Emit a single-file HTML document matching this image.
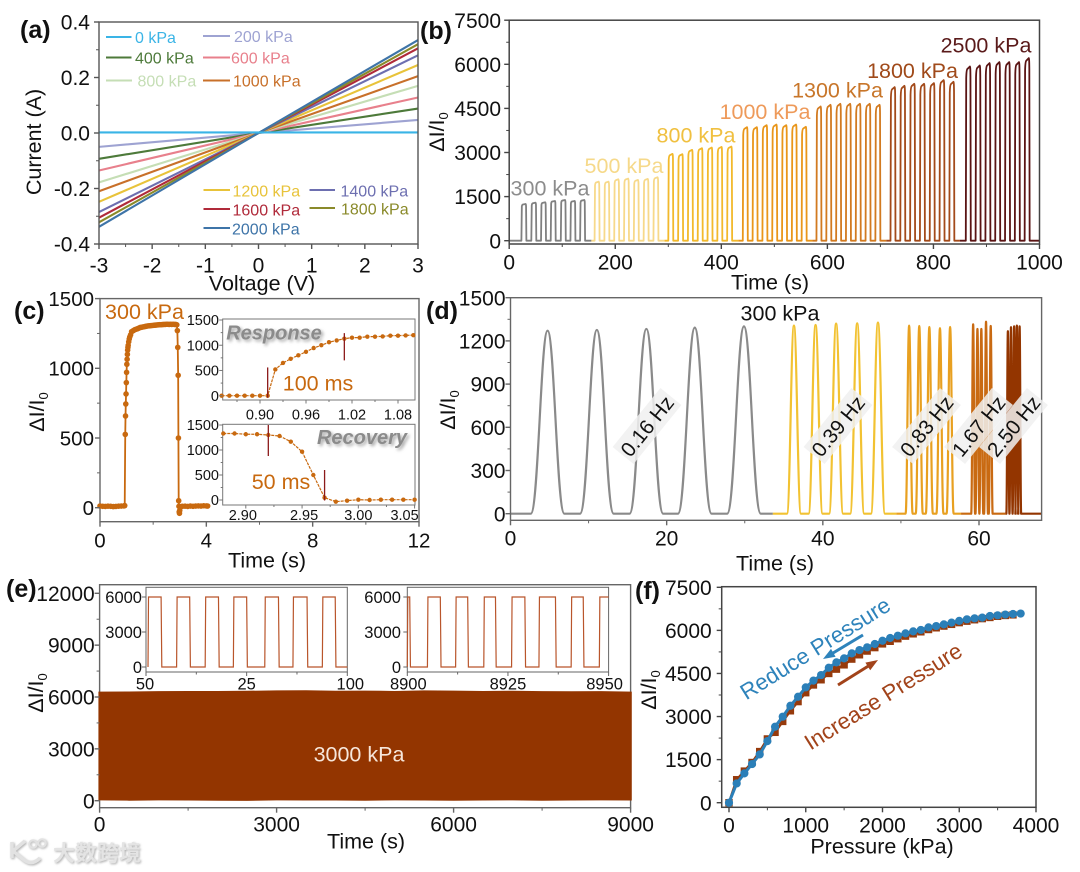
<!DOCTYPE html>
<html lang="en">
<head>
<meta charset="utf-8">
<title>Pressure sensor performance figure</title>
<style>
html,body{margin:0;padding:0;background:#fff}
svg{display:block}
text{font-family:"Liberation Sans","Noto Sans CJK SC",sans-serif;fill:#111}
.mid{text-anchor:middle}
.pl{font-weight:bold;font-size:25px}
.at{font-size:21.5px;text-anchor:middle}
.lg{font-size:16px}
.ann{font-size:21.5px;text-anchor:middle}
.rot{font-size:20.6px;text-anchor:middle}
.arc{font-size:22.3px;text-anchor:middle}
.sh{font-weight:bold;font-style:italic;font-size:20px;text-anchor:middle;fill:#8b8b8b;filter:drop-shadow(2px 2px 1.5px rgba(90,90,90,.55))}
</style>
</head>
<body>
<svg id="fig" width="1080" height="872" viewBox="0 0 1080 872">
<rect width="1080" height="872" fill="#fff"/>

<g id="pa"></g>
<g>
  <line x1="106" x2="131.5" y1="37" y2="37" stroke="#3ab4e6" stroke-width="2"/>
  <text class="lg" x="135" y="37" dy=".36em" style="fill:#3ab4e6">0 kPa</text>
  <line x1="203" x2="230" y1="36" y2="36" stroke="#9ea3d2" stroke-width="2"/>
  <text class="lg" x="234" y="36" dy=".36em" style="fill:#9ea3d2">200 kPa</text>
  <line x1="106" x2="131.5" y1="57.5" y2="57.5" stroke="#4d7a3a" stroke-width="2"/>
  <text class="lg" x="135" y="57.5" dy=".36em" style="fill:#4d7a3a">400 kPa</text>
  <line x1="203" x2="230" y1="57.5" y2="57.5" stroke="#e8808c" stroke-width="2"/>
  <text class="lg" x="231" y="57.5" dy=".36em" style="fill:#e8808c">600 kPa</text>
  <line x1="106" x2="132" y1="80.5" y2="80.5" stroke="#c5deb5" stroke-width="2"/>
  <text class="lg" x="137.5" y="80.5" dy=".36em" style="fill:#c5deb5">800 kPa</text>
  <line x1="203" x2="230" y1="80.5" y2="80.5" stroke="#c8702a" stroke-width="2"/>
  <text class="lg" x="233" y="80.5" dy=".36em" style="fill:#c8702a">1000 kPa</text>
  <line x1="203.5" x2="230" y1="190" y2="190" stroke="#e8c33a" stroke-width="2"/>
  <text class="lg" x="232.5" y="190.5" dy=".36em" style="fill:#e8c33a">1200 kPa</text>
  <line x1="309.5" x2="335" y1="190" y2="190" stroke="#6d6fb0" stroke-width="2"/>
  <text class="lg" x="340.5" y="190.5" dy=".36em" style="fill:#6d6fb0">1400 kPa</text>
  <line x1="203.5" x2="230" y1="209" y2="209" stroke="#b02a3a" stroke-width="2"/>
  <text class="lg" x="232.5" y="209.5" dy=".36em" style="fill:#b02a3a">1600 kPa</text>
  <line x1="309.5" x2="335" y1="208" y2="208" stroke="#8a8a2a" stroke-width="2"/>
  <text class="lg" x="341" y="208.5" dy=".36em" style="fill:#8a8a2a">1800 kPa</text>
  <line x1="203.5" x2="230" y1="228" y2="228" stroke="#3e74a8" stroke-width="2"/>
  <text class="lg" x="232" y="228.5" dy=".36em" style="fill:#3e74a8">2000 kPa</text>
</g>
<text class="pl" x="20" y="29" dy=".36em">(a)</text>
<text class="at" x="262" y="283" dy=".36em">Voltage (V)</text>
<text class="at" transform="translate(33,142) rotate(-90)" dy=".36em">Current (A)</text>

<g id="pb"></g>
<text class="pl" x="420" y="30" dy=".36em">(b)</text>
<text class="at" x="770" y="282" dy=".36em">Time (s)</text>
<text class="at" transform="translate(436,132) rotate(-90)" dy=".36em">ΔI/I<tspan font-size="13" dy="4">0</tspan></text>
<g>
  <text class="ann" x="550" y="188" dy=".36em" style="fill:#8c8c8c">300 kPa</text>
  <text class="ann" x="624" y="165.5" dy=".36em" style="fill:#f6d98a">500 kPa</text>
  <text class="ann" x="696" y="135" dy=".36em" style="fill:#f0c040">800 kPa</text>
  <text class="ann" x="765" y="111.5" dy=".36em" style="fill:#ee9a5a">1000 kPa</text>
  <text class="ann" x="837.5" y="90" dy=".36em" style="fill:#c8762a">1300 kPa</text>
  <text class="ann" x="912.5" y="70.5" dy=".36em" style="fill:#a04a1a">1800 kPa</text>
  <text class="ann" x="986" y="45" dy=".36em" style="fill:#5a1a1a">2500 kPa</text>
</g>

<g id="pc"></g>
<text class="pl" x="14" y="310" dy=".36em">(c)</text>
<text class="at" x="267" y="560" dy=".36em">Time (s)</text>
<text class="at" transform="translate(36,412) rotate(-90)" dy=".36em">ΔI/I<tspan font-size="13" dy="4">0</tspan></text>
<text class="ann" x="144.5" y="311.5" dy=".36em" style="fill:#c8690f">300 kPa</text>
<text class="sh" x="274" y="332.5" dy=".36em">Response</text>
<text class="ann" x="318" y="383" dy=".36em" style="fill:#c8690f">100 ms</text>
<text class="sh" x="362" y="437" dy=".36em">Recovery</text>
<text class="ann" x="281" y="481.5" dy=".36em" style="fill:#c8690f">50 ms</text>

<g id="pd"></g>
<text class="pl" x="426" y="310" dy=".36em">(d)</text>
<text class="at" x="775" y="563" dy=".36em">Time (s)</text>
<text class="at" transform="translate(447,410) rotate(-90)" dy=".36em">ΔI/I<tspan font-size="13" dy="4">0</tspan></text>
<text class="ann" x="780" y="313" dy=".36em">300 kPa</text>
<g transform="translate(647,426) rotate(-51)"><rect x="-38" y="-13.5" width="76" height="27" fill="#f0f0f0" fill-opacity=".85"/><text class="rot" dy=".36em">0.16 Hz</text></g>
<g transform="translate(838,426) rotate(-51)"><rect x="-38" y="-13.5" width="76" height="27" fill="#f0f0f0" fill-opacity=".85"/><text class="rot" dy=".36em">0.39 Hz</text></g>
<g transform="translate(926.5,426) rotate(-51)"><rect x="-38" y="-13.5" width="76" height="27" fill="#f0f0f0" fill-opacity=".85"/><text class="rot" dy=".36em">0.83 Hz</text></g>
<g transform="translate(978.5,426) rotate(-51)"><rect x="-38" y="-13.5" width="76" height="27" fill="#f0f0f0" fill-opacity=".85"/><text class="rot" dy=".36em">1.67 Hz</text></g>
<g transform="translate(1013.5,426) rotate(-51)"><rect x="-38" y="-13.5" width="76" height="27" fill="#f0f0f0" fill-opacity=".85"/><text class="rot" dy=".36em">2.50 Hz</text></g>

<g id="pe"></g>
<text class="pl" x="6" y="588" dy=".36em">(e)</text>
<text class="at" x="366" y="841" dy=".36em">Time (s)</text>
<text class="at" transform="translate(35,693) rotate(-90)" dy=".36em">ΔI/I<tspan font-size="13" dy="4">0</tspan></text>
<text class="ann" x="359" y="754" dy=".36em" style="fill:#f6e6da">3000 kPa</text>

<g id="pf"></g>
<text class="pl" x="635" y="590" dy=".36em">(f)</text>
<text class="at" x="882" y="846" dy=".36em">Pressure (kPa)</text>
<text class="at" transform="translate(648,690) rotate(-90)" dy=".36em">ΔI/I<tspan font-size="13" dy="4">0</tspan></text>
<text class="arc" transform="translate(815,648) rotate(-32)" dy=".36em" style="fill:#2e83bb">Reduce Pressure</text>
<text class="arc" transform="translate(883,696) rotate(-32)" dy=".36em" style="fill:#a2431a">Increase Pressure</text>
<g><line x1="863" y1="635" x2="832" y2="653.6" stroke="#2e83bb" stroke-width="3"/><polygon points="823,659 835.6,656.7 831,648.9" fill="#2e83bb"/></g>
<g><line x1="838" y1="685" x2="869" y2="665.6" stroke="#a2431a" stroke-width="3"/><polygon points="878,660 870.2,670.2 865.4,662.6" fill="#a2431a"/></g>

<g style="filter:drop-shadow(1px 1px 1px rgba(120,120,120,.6))">
  <path d="M12 842 V858 M25 841 L13 851 L24 860 Q32 866 40 858" fill="none" stroke="#e2e2e2" stroke-width="3.5"/>
  <circle cx="33" cy="844" r="3.8" fill="none" stroke="#e2e2e2" stroke-width="2"/>
  <circle cx="42" cy="843" r="3.8" fill="none" stroke="#e2e2e2" stroke-width="2"/>
  <text x="53" y="853" dy=".36em" font-size="22" font-weight="bold" style="fill:#e4e4e4">大数跨境</text>
</g>
</svg>

<script>
/* ---------- panel (a) data ---------- */
const aVoltage = [-3, 0, 3];
const aCurrent0 = [0.002, 0.002, 0.002];
const aCurrent200 = [-0.050, 0, 0.047];
const aCurrent400 = [-0.093, 0, 0.088];
const aCurrent600 = [-0.135, 0, 0.128];
const aCurrent800 = [-0.178, 0, 0.170];
const aCurrent1000 = [-0.210, 0, 0.205];
const aCurrent1200 = [-0.248, 0, 0.245];
const aCurrent1400 = [-0.285, 0, 0.280];
const aCurrent1600 = [-0.305, 0, 0.305];
const aCurrent1800 = [-0.322, 0, 0.320];
const aCurrent2000 = [-0.338, 0, 0.335];
const aXTicks = [-3, -2, -1, 0, 1, 2, 3];
const aXMinor = [-2.5, -1.5, -0.5, 0.5, 1.5, 2.5];
const aYTicks = [-0.4, -0.2, 0, 0.2, 0.4];
const aYMinor = [-0.3, -0.1, 0.1, 0.3];
const aXLabels = ['-3', '-2', '-1', '0', '1', '2', '3'];
const aYLabels = ['-0.4', '-0.2', '0.0', '0.2', '0.4'];

/* ---------- panel (b) data ---------- */
const bOnset300 = [23, 41.7, 60, 78.3, 97.3, 115.5, 133.7];
const bOnset500 = [161, 179.5, 198, 216.5, 235, 253.5, 272];
const bOnset800 = [300, 318.5, 337, 355.5, 374, 392.5, 411];
const bOnset1000 = [440.5, 459, 477.5, 496, 514.5, 533, 551.5];
const bOnset1300 = [579.4, 598, 616.5, 635, 653.5, 672, 690.5];
const bOnset1800 = [719, 737.5, 756, 774.5, 793, 811.5, 830];
const bOnset2500 = [861, 879.5, 898, 916.5, 935, 953.5, 972];
const bPeak300 = [1250, 1295, 1306, 1352, 1386, 1352, 1386];
const bPeak500 = [2010, 2010, 2090, 2113, 2068, 2102, 2158];
const bPeak800 = [2954, 2942, 3090, 3147, 3170, 3192, 3204];
const bPeak1000 = [3862, 3862, 3930, 3953, 3930, 3953, 3874];
const bPeak1300 = [4567, 4624, 4658, 4658, 4658, 4658, 4624];
const bPeak1800 = [5226, 5271, 5339, 5339, 5362, 5464, 5407];
const bPeak2500 = [5930, 5964, 6044, 6078, 6078, 6078, 6214];
const bSegmentStart = [0, 155, 293, 432, 572, 711, 850];
const bSegmentEnd = [155, 293, 432, 572, 711, 850, 1000];
const bPulseLength = [9];
const bXTicks = [0, 200, 400, 600, 800, 1000];
const bXMinor = [100, 300, 500, 700, 900];
const bYTicks = [0, 1500, 3000, 4500, 6000, 7500];
const bYMinor = [750, 2250, 3750, 5250, 6750];
const bXLabels = ['0', '200', '400', '600', '800', '1000'];
const bYLabels = ['0', '1500', '3000', '4500', '6000', '7500'];

/* ---------- panel (c) data ---------- */
const cTimes = [0,0.1,0.2,0.3,0.4,0.5,0.6,0.7,0.8,0.9,0.93,
  0.95,0.96,0.97,0.98,0.99,1.0,1.01,1.02,1.03,1.04,1.05,1.06,1.08,1.1,1.12,1.15,1.19,1.25,1.3,
  1.35,1.4,1.45,1.5,1.55,1.6,1.65,1.7,1.75,1.8,1.85,1.9,1.95,2.0,2.05,2.1,2.15,2.2,2.25,2.3,2.35,2.4,2.45,2.5,2.55,2.6,2.65,2.7,2.75,2.8,2.85,2.89,
  2.91,2.925,2.94,2.95,2.96,2.97,2.98,2.99,3.0,3.02,
  3.05,3.1,3.2,3.3,3.4,3.5,3.6,3.7,3.8,3.9,4.0,4.05];
const cValues = [12,10,9,11,10,8,9,11,12,13,15,
  526,658,744,816,897,971,1029,1065,1100,1130,1150,1165,1190,1210,1225,1240,1263,1270,1276,
  1280,1283,1287,1292,1294,1296,1298,1300,1302,1304,1305,1306,1307,1308,1309,1310,1311,1312,1313,1313,1314,1315,1315,1316,1316,1315,1316,1315,1316,1315,1315,1312,
  1270,1150,950,500,50,10,-30,-40,-20,5,
  8,10,11,9,12,10,12,13,12,14,13,12];
const cXTicks = [0, 4, 8, 12];
const cXMinor = [2, 6, 10];
const cYTicks = [0, 500, 1000, 1500];
const cYMinor = [250, 750, 1250];
const cXLabels = ['0', '4', '8', '12'];
const cYLabels = ['0', '500', '1000', '1500'];

const responseTimes = [0.85,0.86,0.87,0.88,0.89,0.90,0.91,0.92,0.93,0.94,0.95,0.96,0.97,0.98,0.99,1.00,1.01,1.02,1.03,1.04,1.05,1.06,1.07,1.08,1.09,1.10];
const responseValues = [0,0,0,0,0,0,0,520,650,730,800,870,945,1000,1060,1095,1130,1150,1150,1170,1170,1175,1190,1190,1195,1200];
const responseMarkers = [0.91, 1.01];
const responseMarkerLow = [-40, 700];
const responseMarkerHigh = [560, 1240];
const responseXTicks = [0.90, 0.96, 1.02, 1.08];
const responseXMinor = [0.87, 0.93, 0.99, 1.05];
const responseXLabels = ['0.90', '0.96', '1.02', '1.08'];

const recoveryTimes = [2.88,2.89,2.90,2.91,2.92,2.93,2.94,2.95,2.96,2.97,2.98,2.99,3.00,3.01,3.02,3.03,3.04,3.05];
const recoveryValues = [1330,1330,1315,1315,1300,1280,1166,966,500,47,-33,-13,6,0,6,6,6,6];
const recoveryMarkers = [2.92, 2.97];
const recoveryMarkerLow = [880, -10];
const recoveryMarkerHigh = [1500, 600];
const recoveryXTicks = [2.90, 2.95, 3.00, 3.05];
const recoveryXMinor = [2.925, 2.975, 3.025];
const recoveryXLabels = ['2.90', '2.95', '3.00', '3.05'];
const insetYTicks = [0, 500, 1000, 1500];
const insetYMinor = [250, 750, 1250];
const insetYLabels = ['0', '500', '1000', '1500'];

/* ---------- panel (d) data ---------- */
const dPeakTimes016 = [4.75, 11.06, 17.4, 23.6, 29.9];
const dPeakValues016 = [1271, 1276, 1283, 1292, 1301];
const dPeakTimes039 = [36.3, 39.07, 41.7, 44.4, 47.06];
const dPeakValues039 = [1306, 1311, 1320, 1322, 1327];
const dPeakTimes083 = [51.05, 52.35, 53.64, 55, 56.3];
const dPeakValues083 = [1306, 1304, 1297, 1288, 1297];
const dPeakTimes167 = [59.25, 59.8, 60.3, 60.9, 61.5];
const dPeakValues167 = [1315, 1283, 1283, 1333, 1304];
const dPeakTimes250 = [63.7, 64.1, 64.5, 64.85, 65.2];
const dPeakValues250 = [1267, 1295, 1301, 1306, 1301];
const dHalfBase = [2.15, 0.9, 0.45, 0.25, 0.2];
const dSegmentStart = [0, 33.6, 49.4, 57.7, 63.4];
const dSegmentEnd = [33.6, 49.4, 57.7, 63.4, 68];
const dXTicks = [0, 20, 40, 60];
const dXMinor = [10, 30, 50];
const dYTicks = [0, 300, 600, 900, 1200, 1500];
const dYMinor = [150, 450, 750, 1050, 1350];
const dXLabels = ['0', '20', '40', '60'];
const dYLabels = ['0', '300', '600', '900', '1200', '1500'];

/* ---------- panel (e) data ---------- */
const eEnvelopeTimes = [-20,500,1000,1500,2000,2500,3000,3500,4000,4500,5000,5500,6000,6500,7000,7500,8000,8500,9020];
const eEnvelopeTop = [6310,6320,6340,6350,6350,6360,6380,6390,6360,6370,6350,6380,6370,6350,6360,6340,6330,6340,6310];
const eEnvelopeBottom = [20,0,20,10,0,-10,20,10,10,0,20,10,0,10,20,0,10,20,10];
const eXTicks = [0, 3000, 6000, 9000];
const eXMinor = [1500, 4500, 7500];
const eYTicks = [0, 3000, 6000, 9000, 12000];
const eYMinor = [1500, 4500, 7500, 10500];
const eXLabels = ['0', '3000', '6000', '9000'];
const eYLabels = ['0', '3000', '6000', '9000', '12000'];

const eInsetARise = [50.5, 57.6, 64.7, 71.7, 79.5, 86.5, 93.8];
const eInsetAFall = [53.75, 60.85, 68, 75, 82.9, 90, 97];
const eInsetBRise = [8900, 8905, 8912, 8919, 8925.9, 8932.7, 8940.7, 8947.7];
const eInsetBFall = [8900.6, 8908.2, 8915, 8921.9, 8929.2, 8936.8, 8943.7, 8950];
const eInsetHigh = [6000];
const eInsetLow = [0];
const eInsetYTicks = [0, 3000, 6000];
const eInsetYLabels = ['0', '3000', '6000'];
const eInsetAXTicks = [50, 75, 100];
const eInsetAXMinor = [62.5, 87.5];
const eInsetAXLabels = ['50', '25', '100'];
const eInsetBXTicks = [8900, 8925, 8950];
const eInsetBXMinor = [8912.5, 8937.5];
const eInsetBXLabels = ['8900', '8925', '8950'];

/* ---------- panel (f) data ---------- */
const fIncreasePressure = [0,100,200,300,400,500,600,700,800,900,1000,1100,1200,1300,1400,1500,1600,1700,1800,1900,2000,2100,2200,2300,2400,2500,2600,2700,2800,2900,3000,3100,3200,3300,3400,3500,3600,3700];
const fIncreaseValues = [0,800,1100,1400,1780,2220,2450,2830,3200,3520,3830,4100,4280,4500,4650,4800,5000,5150,5280,5400,5530,5620,5710,5800,5880,5950,6030,6090,6150,6210,6270,6320,6370,6410,6450,6490,6520,6540];
const fReducePressure = [0,100,200,300,400,500,600,700,800,900,1000,1100,1200,1300,1400,1500,1600,1700,1800,1900,2000,2100,2200,2300,2400,2500,2600,2700,2800,2900,3000,3100,3200,3300,3400,3500,3600,3700,3800];
const fReduceValues = [0,670,1020,1345,1680,2145,2645,2995,3375,3690,4015,4250,4445,4700,4885,5025,5200,5315,5410,5525,5640,5735,5815,5895,5965,6015,6105,6150,6210,6270,6330,6385,6420,6445,6500,6525,6550,6570,6585];
const fXTicks = [0, 1000, 2000, 3000, 4000];
const fXMinor = [500, 1500, 2500, 3500];
const fYTicks = [0, 1500, 3000, 4500, 6000, 7500];
const fYMinor = [750, 2250, 3750, 5250, 6750];
const fXLabels = ['0', '1000', '2000', '3000', '4000'];
const fYLabels = ['0', '1500', '3000', '4500', '6000', '7500'];

/* ---------- helpers ---------- */
const svgNs = document.getElementById('fig').namespaceURI;

function mk(tag, name, parent) {
  const el = document.createElementNS(svgNs, tag);
  
  
  parent.appendChild(el);
  return el;
}
function attrs(el, values) {
  Object.keys(values).forEach(function (k) { el.setAttribute(k, values[k]); });
  return el;
}
function scale(d0, d1, r0, r1) {
  return function (v) { return r0 + (v - d0) * (r1 - r0) / (d1 - d0); };
}
function frame(parent, name, l, t, r, b, color, w) {
  const el = mk('rect', name, parent);
  attrs(el, {x: l, y: t, width: r - l, height: b - t, fill: 'none', stroke: color, 'stroke-width': w});
}
function xTicks(parent, name, xs, values, yBase, len, color, w) {
  values.forEach(function (v) {
    const el = mk('line', name, parent);
    attrs(el, {x1: xs(v), x2: xs(v), y1: yBase, y2: yBase + len, stroke: color, 'stroke-width': w});
  });
}
function yTicks(parent, name, ys, values, xBase, len, color, w) {
  values.forEach(function (v) {
    const el = mk('line', name, parent);
    attrs(el, {x1: xBase - len, x2: xBase, y1: ys(v), y2: ys(v), stroke: color, 'stroke-width': w});
  });
}
function xLabels(parent, name, xs, values, labels, yCenter, size, nudge) {
  values.forEach(function (v, i) {
    const el = mk('text', name, parent);
    attrs(el, {x: xs(v) + (nudge ? nudge[i] : 0), y: yCenter, dy: '.36em', 'font-size': size, 'text-anchor': 'middle'});
    el.textContent = labels[i];
  });
}
function yLabels(parent, name, ys, values, labels, xRight, size) {
  values.forEach(function (v, i) {
    const el = mk('text', name, parent);
    attrs(el, {x: xRight, y: ys(v), dy: '.36em', 'font-size': size, 'text-anchor': 'end'});
    el.textContent = labels[i];
  });
}
function linePath(xs, ys, tx, ty) {
  return tx.map(function (t, i) { return (i ? 'L' : 'M') + xs(t).toFixed(2) + ' ' + ys(ty[i]).toFixed(2); }).join(' ');
}

/* ---------- panel (a) ---------- */
(function () {
  const g = document.getElementById('pa');
  const x = scale(-3, 3, 99, 418);
  const y = scale(-0.4, 0.4, 244, 22);
  const curves = [aCurrent200, aCurrent400, aCurrent600, aCurrent800, aCurrent1000, aCurrent1200, aCurrent1400, aCurrent1600, aCurrent1800, aCurrent2000, aCurrent0];
  const curveColors = ['#9ea3d2', '#4d7a3a', '#e8808c', '#c5deb5', '#c8702a', '#e8c33a', '#6d6fb0', '#b02a3a', '#8a8a2a', '#3e74a8', '#3ab4e6'];
  curves.forEach(function (c, i) {
    const el = mk('path', 'iv-curve', g);
    attrs(el, {d: linePath(x, y, aVoltage, c), fill: 'none', stroke: curveColors[i], 'stroke-width': 2.1});
  });
  frame(g, 'panel-a-plot-frame', 99, 22, 418, 244, '#555', 1.4);
  xTicks(g, 'x-tick', x, aXTicks, 244, 5, '#555', 1.4);
  xTicks(g, 'x-minor-tick', x, aXMinor, 244, 3, '#555', 1);
  yTicks(g, 'y-tick', y, aYTicks, 99, 5, '#555', 1.4);
  yTicks(g, 'y-minor-tick', y, aYMinor, 99, 3, '#555', 1);
  xLabels(g, 'x-tick-label', x, aXTicks, aXLabels, 265, 21);
  yLabels(g, 'y-tick-label', y, aYTicks, aYLabels, 90, 21);
})();

/* ---------- panel (b) ---------- */
(function () {
  const g = document.getElementById('pb');
  const x = scale(0, 1000, 509.2, 1039.5);
  const y = scale(0, 7500, 240.7, 20.2);
  const onsets = [bOnset300, bOnset500, bOnset800, bOnset1000, bOnset1300, bOnset1800, bOnset2500];
  const peaks = [bPeak300, bPeak500, bPeak800, bPeak1000, bPeak1300, bPeak1800, bPeak2500];
  const colors = ['#808080', '#f7d98a', '#f2b92c', '#e9961a', '#d27a20', '#a34a1a', '#5a1414'];
  const len = bPulseLength[0];
  onsets.forEach(function (on, s) {
    let d = 'M' + x(bSegmentStart[s]).toFixed(2) + ' ' + y(0).toFixed(2);
    on.forEach(function (t, i) {
      const h = peaks[s][i];
      d += ' L' + x(t).toFixed(2) + ' ' + y(0).toFixed(2);
      d += ' L' + x(t + 0.8).toFixed(2) + ' ' + y(h * 0.93).toFixed(2);
      d += ' Q' + x(t + 1.2).toFixed(2) + ' ' + y(h * 0.98).toFixed(2) + ' ' + x(t + 3).toFixed(2) + ' ' + y(h * 0.985).toFixed(2);
      d += ' L' + x(t + len - 1).toFixed(2) + ' ' + y(h).toFixed(2);
      d += ' Q' + x(t + len - 0.4).toFixed(2) + ' ' + y(h).toFixed(2) + ' ' + x(t + len - 0.2).toFixed(2) + ' ' + y(h * 0.94).toFixed(2);
      d += ' L' + x(t + len + 0.4).toFixed(2) + ' ' + y(0).toFixed(2);
    });
    d += ' L' + x(bSegmentEnd[s]).toFixed(2) + ' ' + y(0).toFixed(2);
    const el = mk('path', 'pressure-step-series', g);
    attrs(el, {d: d, fill: 'none', stroke: colors[s], 'stroke-width': 1.8, 'stroke-linejoin': 'round'});
  });
  frame(g, 'panel-b-plot-frame', 509.2, 20.2, 1039.5, 244, '#444', 1.5);
  xTicks(g, 'x-tick', x, bXTicks, 244, 5, '#444', 1.4);
  xTicks(g, 'x-minor-tick', x, bXMinor, 244, 3, '#444', 1);
  yTicks(g, 'y-tick', y, bYTicks, 509.2, 5, '#444', 1.4);
  yTicks(g, 'y-minor-tick', y, bYMinor, 509.2, 3, '#444', 1);
  xLabels(g, 'x-tick-label', x, bXTicks, bXLabels, 262, 21);
  yLabels(g, 'y-tick-label', y, bYTicks, bYLabels, 501, 21);
})();

/* ---------- panel (c) ---------- */
(function () {
  const g = document.getElementById('pc');
  const orange = '#c8690f';
  const x = scale(0, 12, 100, 419);
  const y = scale(0, 1500, 507.7, 298.6);
  frame(g, 'panel-c-plot-frame', 100, 298.6, 419, 521.7, '#666', 1.4);
  const main = mk('path', 'response-curve-line', g);
  attrs(main, {d: linePath(x, y, cTimes, cValues), fill: 'none', stroke: orange, 'stroke-width': 1.8});
  cTimes.forEach(function (t, i) {
    const dot = mk('circle', 'response-curve-point', g);
    attrs(dot, {cx: x(t), cy: y(cValues[i]), r: 2.8, fill: orange});
  });
  xTicks(g, 'x-tick', x, cXTicks, 521.7, 5, '#666', 1.4);
  xTicks(g, 'x-minor-tick', x, cXMinor, 521.7, 3, '#666', 1);
  yTicks(g, 'y-tick', y, cYTicks, 100, 5, '#666', 1.4);
  yTicks(g, 'y-minor-tick', y, cYMinor, 100, 3, '#666', 1);
  xLabels(g, 'x-tick-label', x, cXTicks, cXLabels, 540, 20.5);
  yLabels(g, 'y-tick-label', y, cYTicks, cYLabels, 94, 20.5);

  /* response inset */
  const rg = mk('g', 'response-inset', g);
  const rx = scale(0.90, 1.08, 260, 398);
  const ry = scale(0, 1500, 395.7, 320);
  frame(rg, 'response-inset-frame', 222.7, 319, 415, 400, '#777', 1);
  const rl = mk('path', 'response-inset-line', rg);
  attrs(rl, {d: linePath(rx, ry, responseTimes, responseValues), fill: 'none', stroke: orange, 'stroke-width': 1.2, 'stroke-dasharray': '3 1'});
  responseTimes.forEach(function (t, i) {
    const dot = mk('circle', 'response-inset-point', rg);
    attrs(dot, {cx: rx(t), cy: ry(responseValues[i]), r: 2.2, fill: orange});
  });
  responseMarkers.forEach(function (t, i) {
    const m = mk('line', 'response-time-marker', rg);
    attrs(m, {x1: rx(t), x2: rx(t), y1: ry(responseMarkerLow[i]), y2: ry(responseMarkerHigh[i]), stroke: '#8c1a1a', 'stroke-width': 1.3});
  });
  xTicks(rg, 'x-tick', rx, responseXTicks, 400, 3.5, '#777', 1);
  xTicks(rg, 'x-minor-tick', rx, responseXMinor, 400, 2, '#777', 1);
  yTicks(rg, 'y-tick', ry, insetYTicks, 222.7, 3.5, '#777', 1);
  yTicks(rg, 'y-minor-tick', ry, insetYMinor, 222.7, 2, '#777', 1);
  xLabels(rg, 'x-tick-label', rx, responseXTicks, responseXLabels, 414.5, 14.5);
  yLabels(rg, 'y-tick-label', ry, insetYTicks, insetYLabels, 219, 14.5);

  /* recovery inset */
  const vg = mk('g', 'recovery-inset', g);
  const vx = scale(2.88, 3.05, 223.3, 414.6);
  const vy = scale(0, 1500, 500, 425);
  frame(vg, 'recovery-inset-frame', 222.7, 424.3, 415, 505, '#777', 1);
  const vl = mk('path', 'recovery-inset-line', vg);
  attrs(vl, {d: linePath(vx, vy, recoveryTimes, recoveryValues), fill: 'none', stroke: orange, 'stroke-width': 1.2, 'stroke-dasharray': '3 1'});
  recoveryTimes.forEach(function (t, i) {
    const dot = mk('circle', 'recovery-inset-point', vg);
    attrs(dot, {cx: vx(t), cy: vy(recoveryValues[i]), r: 2.2, fill: orange});
  });
  recoveryMarkers.forEach(function (t, i) {
    const m = mk('line', 'recovery-time-marker', vg);
    attrs(m, {x1: vx(t), x2: vx(t), y1: vy(recoveryMarkerLow[i]), y2: vy(recoveryMarkerHigh[i]), stroke: '#8c1a1a', 'stroke-width': 1.3});
  });
  xTicks(vg, 'x-tick', vx, recoveryXTicks, 505, 3.5, '#777', 1);
  xTicks(vg, 'x-minor-tick', vx, recoveryXMinor, 505, 2, '#777', 1);
  yTicks(vg, 'y-tick', vy, insetYTicks, 222.7, 3.5, '#777', 1);
  yTicks(vg, 'y-minor-tick', vy, insetYMinor, 222.7, 2, '#777', 1);
  xLabels(vg, 'x-tick-label', vx, recoveryXTicks, recoveryXLabels, 515, 14.5, [-3, 2, 0, -10]);
  yLabels(vg, 'y-tick-label', vy, insetYTicks, insetYLabels, 219, 14.5);
})();

/* ---------- panel (d) ---------- */
(function () {
  const g = document.getElementById('pd');
  const x = scale(0, 60, 510.5, 979);
  const y = scale(0, 1500, 513.7, 297.7);
  const times = [dPeakTimes016, dPeakTimes039, dPeakTimes083, dPeakTimes167, dPeakTimes250];
  const values = [dPeakValues016, dPeakValues039, dPeakValues083, dPeakValues167, dPeakValues250];
  const colors = ['#8a8a8a', '#f2c232', '#e8a020', '#c96a12', '#933500'];
  times.forEach(function (ts, s) {
    const hb = dHalfBase[s];
    const y0 = y(0).toFixed(2);
    let d = 'M' + x(dSegmentStart[s]).toFixed(2) + ' ' + y0;
    ts.forEach(function (t, i) {
      const top = y(values[s][i]).toFixed(2);
      d += ' L' + x(t - hb).toFixed(2) + ' ' + y0;
      d += ' C' + x(t - 0.55 * hb).toFixed(2) + ' ' + y0 + ' ' + x(t - 0.4 * hb).toFixed(2) + ' ' + top + ' ' + x(t).toFixed(2) + ' ' + top;
      d += ' C' + x(t + 0.4 * hb).toFixed(2) + ' ' + top + ' ' + x(t + 0.55 * hb).toFixed(2) + ' ' + y0 + ' ' + x(t + hb).toFixed(2) + ' ' + y0;
    });
    d += ' L' + x(dSegmentEnd[s]).toFixed(2) + ' ' + y0;
    const el = mk('path', 'frequency-series', g);
    attrs(el, {d: d, fill: 'none', stroke: colors[s], 'stroke-width': 2.2, 'stroke-linejoin': 'round'});
  });
  frame(g, 'panel-d-plot-frame', 510.5, 297.7, 1041.6, 520.3, '#666', 1.4);
  xTicks(g, 'x-tick', x, dXTicks, 520.3, 5, '#666', 1.4);
  xTicks(g, 'x-minor-tick', x, dXMinor, 520.3, 3, '#666', 1);
  yTicks(g, 'y-tick', y, dYTicks, 510.5, 5, '#666', 1.4);
  yTicks(g, 'y-minor-tick', y, dYMinor, 510.5, 3, '#666', 1);
  xLabels(g, 'x-tick-label', x, dXTicks, dXLabels, 538, 21);
  yLabels(g, 'y-tick-label', y, dYTicks, dYLabels, 505.5, 21);
})();

/* ---------- panel (e) ---------- */
(function () {
  const g = document.getElementById('pe');
  const x = scale(0, 9000, 99.6, 630.6);
  const y = scale(0, 12000, 800.7, 593.3);
  frame(g, 'panel-e-plot-frame', 99.6, 584.7, 630.6, 807.7, '#666', 1.4);
  const topEdge = linePath(x, y, eEnvelopeTimes, eEnvelopeTop);
  const bottomEdge = eEnvelopeTimes.slice().reverse().map(function (t, i, arr) {
    return 'L' + x(t).toFixed(2) + ' ' + y(eEnvelopeBottom[arr.length - 1 - i]).toFixed(2);
  }).join(' ');
  const band = mk('path', 'cycling-response-band', g);
  attrs(band, {d: topEdge + ' ' + bottomEdge + ' Z', fill: '#933500'});
  xTicks(g, 'x-tick', x, eXTicks, 807.7, 5, '#666', 1.4);
  xTicks(g, 'x-minor-tick', x, eXMinor, 807.7, 3, '#666', 1);
  yTicks(g, 'y-tick', y, eYTicks, 99.6, 5, '#666', 1.4);
  yTicks(g, 'y-minor-tick', y, eYMinor, 99.6, 3, '#666', 1);
  xLabels(g, 'x-tick-label', x, eXTicks, eXLabels, 824, 21);
  yLabels(g, 'y-tick-label', y, eYTicks, eYLabels, 94.7, 21);

  function inset(name, l, r, d0, d1, rise, fall, xVals, xMinor, xLab, labelRight, nudge) {
    const ig = mk('g', name, g);
    const ix = scale(d0, d1, l, r);
    const iy = scale(0, 6000, 667, 597);
    frame(ig, name + '-frame', l, 587.3, r, 672, '#666', 1);
    let d = '';
    rise.forEach(function (t, i) {
      d += (i ? ' L' : 'M') + ix(t).toFixed(2) + ' ' + iy(eInsetLow[0]).toFixed(2);
      d += ' L' + (ix(t) + 0.5).toFixed(2) + ' ' + iy(eInsetHigh[0]).toFixed(2);
      d += ' L' + ix(fall[i]).toFixed(2) + ' ' + iy(eInsetHigh[0]).toFixed(2);
      d += ' L' + Math.min(ix(fall[i]) + 0.7, r).toFixed(2) + ' ' + iy(fall[i] >= d1 ? eInsetHigh[0] : eInsetLow[0]).toFixed(2);
    });
    if (fall[fall.length - 1] < d1) {
      d += ' L' + r.toFixed(2) + ' ' + iy(eInsetLow[0]).toFixed(2);
    }
    const p = mk('path', name + '-signal', ig);
    attrs(p, {d: d, fill: 'none', stroke: '#b9552b', 'stroke-width': 1.2});
    xTicks(ig, 'x-tick', ix, xVals, 672, 4, '#666', 1);
    xTicks(ig, 'x-minor-tick', ix, xMinor, 672, 2.5, '#666', 1);
    yTicks(ig, 'y-tick', iy, eInsetYTicks, l, 4, '#666', 1);
    xLabels(ig, 'x-tick-label', ix, xVals, xLab, 683.5, 16.5, nudge);
    yLabels(ig, 'y-tick-label', iy, eInsetYTicks, eInsetYLabels, labelRight, 16.5);
  }
  inset('cycling-inset-start', 146, 347.3, 50, 100, eInsetARise, eInsetAFall, eInsetAXTicks, eInsetAXMinor, eInsetAXLabels, 142, [-1, 0, 3]);
  inset('cycling-inset-end', 407.3, 608.6, 8900, 8950, eInsetBRise, eInsetBFall, eInsetBXTicks, eInsetBXMinor, eInsetBXLabels, 401, [1, 0, -4]);
})();

/* ---------- panel (f) ---------- */
(function () {
  const g = document.getElementById('pf');
  const x = scale(0, 4000, 729, 1036);
  const y = scale(0, 7500, 802.7, 587.3);
  frame(g, 'panel-f-plot-frame', 721.7, 586.7, 1036, 807.3, '#444', 1.5);
  const brown = '#963a0c';
  const blue = '#2b7fb8';
  const up = mk('path', 'increase-pressure-line', g);
  attrs(up, {d: linePath(x, y, fIncreasePressure, fIncreaseValues), fill: 'none', stroke: brown, 'stroke-width': 2.5});
  fIncreasePressure.forEach(function (p, i) {
    const s = mk('rect', 'increase-pressure-point', g);
    attrs(s, {x: x(p) - 3.7, y: y(fIncreaseValues[i]) - 3.7, width: 7.4, height: 7.4, fill: brown});
  });
  const down = mk('path', 'reduce-pressure-line', g);
  attrs(down, {d: linePath(x, y, fReducePressure, fReduceValues), fill: 'none', stroke: blue, 'stroke-width': 3});
  fReducePressure.forEach(function (p, i) {
    const c = mk('circle', 'reduce-pressure-point', g);
    attrs(c, {cx: x(p), cy: y(fReduceValues[i]), r: 4.1, fill: blue});
  });
  xTicks(g, 'x-tick', x, fXTicks, 807.3, 5, '#444', 1.4);
  xTicks(g, 'x-minor-tick', x, fXMinor, 807.3, 3, '#444', 1);
  yTicks(g, 'y-tick', y, fYTicks, 721.7, 5, '#444', 1.4);
  yTicks(g, 'y-minor-tick', y, fYMinor, 721.7, 3, '#444', 1);
  xLabels(g, 'x-tick-label', x, fXTicks, fXLabels, 825, 21);
  yLabels(g, 'y-tick-label', y, fYTicks, fYLabels, 711.7, 21);
})();
</script>
</body>
</html>
